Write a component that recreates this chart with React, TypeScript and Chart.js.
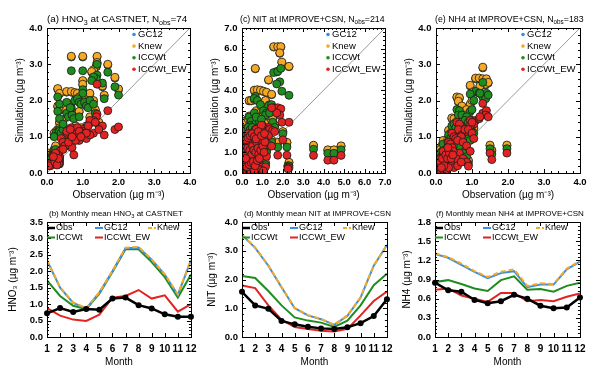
import React, { useEffect, useRef } from 'react';
import { Chart, registerables } from 'chart.js';

Chart.register(...registerables);

const FONT = "'Liberation Sans', Arial, Helvetica, sans-serif";
const COL_GC12 = '#3b8fdc';
const COL_KNEW = '#f6a924';
const COL_ICC = '#1f8c1f';
const COL_EW = '#e32222';
const COL_OBS = '#000000';

const seriesNames = ['GC12', 'Knew', 'ICCWt', 'ICCWt_EW'];

// ---------- (a) HNO3 at CASTNET scatter ----------
const hno3Obs = [
  0.68, 1.0, 1.4, 1.4, 1.38, 1.7, 1.3, 1.25, 1.0, 1.0,
  1.9, 2.0, 1.55, 0.3, 0.35, 0.55, 0.68, 0.78, 0.85, 0.9,
  0.95, 1.05, 1.1, 1.2, 1.15, 1.6, 0.3, 0.35, 0.35, 0.55,
  0.6, 0.7, 0.75, 0.9, 0.65, 1.3, 1.2, 0.25, 0.3, 0.2,
  0.35, 0.4, 0.45, 0.15, 0.2, 0.1, 0.05, 0.25, 0.3, 0.35,
  0.2, 0.28, 0.05, 1.1, 1.45, 0.5, 0.6, 0.8, 0.95, 1.35,
  0.7, 0.45, 0.22, 0.26, 0.3, 0.33, 0.24, 0.28, 0.32, 0.18,
];
const hno3Gc12 = [
  3.2, 3.2, 3.2, 3.03, 2.93, 2.98, 2.83, 2.78, 2.53, 2.43,
  2.62, 2.3, 2.38, 2.31, 2.18, 2.23, 2.23, 2.2, 2.18, 2.08,
  2.03, 2.13, 2.03, 2.18, 1.98, 2.13, 1.83, 1.73, 1.38, 1.73,
  1.63, 1.68, 1.58, 1.68, 1.88, 1.98, 1.53, 1.13, 1.18, 1.08,
  1.23, 1.13, 1.28, 0.53, 0.48, 0.43, 0.53, 0.58, 0.48, 0.43,
  0.63, 0.68, 0.24, 1.28, 1.38, 0.98, 1.03, 1.28, 1.23, 1.73,
  1.18, 1.43, 0.39, 0.53, 0.63, 0.34, 0.73, 0.29, 0.48, 0.58,
];
const hno3Knew = [
  3.22, 3.22, 3.22, 3.05, 2.95, 3.0, 2.85, 2.8, 2.55, 2.45,
  2.64, 2.32, 2.4, 2.33, 2.2, 2.25, 2.25, 2.22, 2.2, 2.1,
  2.05, 2.15, 2.05, 2.2, 2.0, 2.15, 1.85, 1.75, 1.4, 1.75,
  1.65, 1.7, 1.6, 1.7, 1.9, 2.0, 1.55, 1.15, 1.2, 1.1,
  1.25, 1.15, 1.3, 0.55, 0.5, 0.45, 0.55, 0.6, 0.5, 0.45,
  0.65, 0.7, 0.25, 1.3, 1.4, 1.0, 1.05, 1.3, 1.25, 1.75,
  1.2, 1.45, 0.4, 0.55, 0.65, 0.35, 0.75, 0.3, 0.5, 0.6,
];
const hno3Icc = [
  2.82, 2.82, 3.0, 2.7, 2.6, 2.78, 2.65, 2.55, 2.3, 2.2,
  2.38, 2.15, 2.48, 2.1, 1.9, 1.95, 1.8, 2.0, 2.05, 1.95,
  1.9, 1.95, 1.85, 2.0, 1.8, 2.05, 1.7, 1.5, 1.2, 1.65,
  1.55, 1.6, 1.5, 1.55, 1.8, 1.9, 1.4, 1.1, 1.05, 1.0,
  1.15, 1.1, 1.2, 0.5, 0.4, 0.3, 0.35, 0.55, 0.45, 0.4,
  0.6, 0.6, 0.22, 1.25, 1.3, 0.95, 1.0, 1.2, 1.15, 1.65,
  1.1, 1.35, 0.35, 0.5, 0.55, 0.3, 0.65, 0.28, 0.45, 0.5,
];
const hno3Ew = [
  1.25, 1.2, 2.45, 1.62, 1.55, 1.72, 1.45, 1.4, 1.15, 1.1,
  1.2, 1.27, 1.3, 0.55, 0.45, 1.1, 0.95, 1.1, 1.25, 1.15,
  1.0, 1.05, 0.95, 1.45, 1.3, 1.05, 0.4, 0.35, 0.3, 1.15,
  0.75, 0.7, 0.5, 0.9, 1.2, 1.1, 1.05, 0.45, 0.35, 0.4,
  0.6, 0.95, 0.85, 0.3, 0.25, 0.2, 0.25, 0.4, 0.3, 0.25,
  0.5, 0.35, 0.2, 1.1, 1.2, 0.75, 0.85, 0.9, 1.0, 1.4,
  1.0, 0.65, 0.3, 0.45, 0.5, 0.25, 0.55, 0.22, 0.4, 0.45,
];

// ---------- (c) NIT at IMPROVE+CSN scatter ----------
const nitObs = [
  3.5, 4.2, 4.5, 4.85, 1.75, 2.2, 2.3, 2.25, 1.55, 1.75,
  1.9, 1.85, 1.95, 2.3, 0.65, 1.3, 1.7, 0.6, 0.75, 0.9,
  1.05, 1.2, 1.45, 0.35, 0.45, 0.6, 1.15, 1.35, 0.35, 0.45,
  0.55, 0.7, 0.85, 1.0, 1.5, 1.3, 1.6, 2.0, 0.25, 0.2,
  0.15, 0.1, 0.3, 0.5, 0.8, 1.1, 0.9, 0.65, 0.4, 0.55,
  0.75, 1.0, 1.2, 0.3, 0.2, 0.1, 0.05, 0.15, 0.25, 0.35,
  0.45, 0.6, 0.7, 0.85, 1.0, 1.15, 0.05, 0.1, 0.15, 0.2,
  0.3, 0.4, 0.5, 0.55, 0.65, 0.8, 0.9, 0.05, 0.1, 0.25,
  0.35, 0.45, 0.6, 1.05, 0.02, 0.08, 0.12, 0.3, 0.7, 0.95,
  1.25, 1.45, 0.08, 0.12, 0.18, 0.22, 0.28, 0.32, 0.38, 0.42,
  0.48, 0.52, 0.58, 0.62, 0.68, 0.72, 0.78, 0.82, 0.88, 0.92,
  0.98, 1.02, 1.08, 1.12, 0.15, 0.25, 0.35, 0.45, 0.55, 0.65,
  0.75, 0.85, 0.2, 0.3, 0.4, 0.5, 0.6, 0.7, 0.8, 0.95,
  1.1, 0.18,
];
const nitGc12 = [
  1.32, 1.1, 1.1, 1.29, 1.46, 1.46, 0.5, 0.34, 6.08, 6.08,
  6.08, 5.78, 5.33, 5.13, 5.03, 4.48, 4.88, 3.98, 4.0, 3.98,
  3.93, 3.88, 3.78, 3.48, 3.48, 3.53, 3.48, 3.28, 2.73, 2.68,
  2.68, 2.63, 2.68, 2.58, 2.58, 2.38, 2.28, 1.98, 2.28, 1.98,
  1.78, 1.48, 1.88, 2.08, 2.18, 1.98, 1.78, 1.68, 1.58, 1.28,
  1.38, 1.28, 1.08, 1.18, 0.98, 0.88, 0.68, 0.58, 0.78, 0.88,
  0.98, 0.88, 0.78, 0.68, 0.58, 0.48, 0.28, 0.19, 0.34, 0.38,
  0.48, 0.43, 0.53, 0.28, 0.38, 0.33, 0.24, 0.05, 0.1, 0.14,
  0.19, 0.1, 0.14, 0.19, 1.18, 1.58, 2.48, 2.58, 2.98, 3.18,
  1.78, 1.58, 1.38, 1.08, 0.78, 1.28, 1.58, 0.98, 1.48, 1.88,
  1.18, 1.68, 1.48, 1.98, 1.28, 1.88, 1.58, 1.18, 2.28, 1.48,
  1.88, 1.68, 1.38, 1.88, 0.48, 0.43, 0.58, 0.68, 0.78, 0.53,
  0.88, 0.98, 2.08, 2.18, 2.38, 2.48, 2.28, 2.08, 2.48, 2.18,
  2.38, 1.08,
];
const nitKnew = [
  1.34, 1.12, 1.12, 1.31, 1.48, 1.48, 0.52, 0.35, 6.1, 6.1,
  6.1, 5.8, 5.35, 5.15, 5.05, 4.5, 4.9, 4.0, 4.02, 4.0,
  3.95, 3.9, 3.8, 3.5, 3.5, 3.55, 3.5, 3.3, 2.75, 2.7,
  2.7, 2.65, 2.7, 2.6, 2.6, 2.4, 2.3, 2.0, 2.3, 2.0,
  1.8, 1.5, 1.9, 2.1, 2.2, 2.0, 1.8, 1.7, 1.6, 1.3,
  1.4, 1.3, 1.1, 1.2, 1.0, 0.9, 0.7, 0.6, 0.8, 0.9,
  1.0, 0.9, 0.8, 0.7, 0.6, 0.5, 0.3, 0.2, 0.35, 0.4,
  0.5, 0.45, 0.55, 0.3, 0.4, 0.35, 0.25, 0.05, 0.1, 0.15,
  0.2, 0.1, 0.15, 0.2, 1.2, 1.6, 2.5, 2.6, 3.0, 3.2,
  1.8, 1.6, 1.4, 1.1, 0.8, 1.3, 1.6, 1.0, 1.5, 1.9,
  1.2, 1.7, 1.5, 2.0, 1.3, 1.9, 1.6, 1.2, 2.3, 1.5,
  1.9, 1.7, 1.4, 1.9, 0.5, 0.45, 0.6, 0.7, 0.8, 0.55,
  0.9, 1.0, 2.1, 2.2, 2.4, 2.5, 2.3, 2.1, 2.5, 2.2,
  2.4, 1.1,
];
const nitIcc = [
  1.15, 0.95, 0.95, 1.12, 1.25, 1.25, 0.35, 0.28, 4.85, 4.9,
  5.05, 4.4, 3.95, 3.75, 3.7, 3.25, 4.3, 3.6, 3.5, 3.3,
  3.0, 2.9, 3.3, 2.7, 2.5, 2.9, 2.8, 2.9, 2.2, 2.3,
  2.25, 2.4, 2.5, 2.3, 2.45, 2.1, 2.2, 1.9, 2.0, 1.7,
  1.6, 1.3, 1.5, 1.8, 1.9, 1.8, 1.6, 1.5, 1.4, 1.2,
  1.2, 1.1, 1.0, 1.0, 0.9, 0.8, 0.6, 0.5, 0.7, 0.8,
  0.9, 0.8, 0.6, 0.6, 0.5, 0.4, 0.2, 0.15, 0.3, 0.3,
  0.4, 0.35, 0.45, 0.2, 0.3, 0.3, 0.2, 0.05, 0.1, 0.1,
  0.15, 0.1, 0.1, 0.15, 1.0, 1.4, 2.1, 2.2, 2.7, 2.6,
  1.6, 1.5, 1.2, 1.0, 0.7, 1.1, 1.4, 0.9, 1.3, 1.7,
  1.1, 1.5, 1.3, 1.8, 1.2, 1.7, 1.4, 1.1, 2.0, 1.3,
  1.7, 1.5, 1.2, 1.7, 0.4, 0.4, 0.5, 0.6, 0.7, 0.45,
  0.8, 0.9, 1.8, 1.9, 2.1, 2.2, 2.0, 1.9, 2.2, 2.0,
  2.1, 0.9,
];
const nitEw = [
  0.85, 0.62, 0.62, 0.85, 0.86, 0.86, 0.25, 0.2, 3.15, 3.15,
  3.1, 2.8, 2.45, 2.45, 2.1, 2.2, 2.9, 1.8, 1.9, 2.0,
  1.7, 2.1, 3.15, 1.5, 1.4, 1.6, 2.0, 2.1, 1.2, 1.3,
  1.5, 1.7, 1.9, 2.0, 2.05, 1.8, 2.0, 1.6, 1.3, 1.1,
  1.5, 1.0, 1.2, 1.4, 1.2, 1.6, 1.3, 1.1, 1.0, 0.9,
  1.0, 0.9, 0.8, 0.7, 0.6, 0.5, 0.4, 0.3, 0.5, 0.6,
  0.7, 0.6, 0.5, 0.4, 0.3, 0.3, 0.1, 0.1, 0.2, 0.2,
  0.3, 0.25, 0.3, 0.15, 0.2, 0.2, 0.15, 0.05, 0.05, 0.1,
  0.1, 0.05, 0.1, 0.1, 0.8, 1.2, 1.6, 1.9, 2.1, 2.3,
  1.4, 1.3, 1.0, 0.8, 0.5, 0.9, 1.2, 0.7, 1.1, 1.5,
  0.9, 1.3, 1.1, 1.6, 1.0, 1.5, 1.2, 0.9, 1.8, 1.1,
  1.5, 1.3, 1.0, 1.5, 0.3, 0.3, 0.4, 0.5, 0.55, 0.35,
  0.6, 0.7, 1.6, 1.7, 1.8, 1.9, 1.75, 1.65, 2.0, 1.8,
  1.9, 0.7,
];

// ---------- (e) NH4 at IMPROVE+CSN scatter ----------
const nh4Obs = [
  1.3, 1.1, 1.2, 1.3, 1.4, 1.38, 1.45, 1.22, 0.95, 1.05,
  0.58, 0.65, 0.62, 0.72, 0.95, 1.0, 0.85, 0.8, 0.44, 0.5,
  0.55, 0.7, 0.9, 1.0, 1.05, 0.35, 0.4, 0.6, 0.75, 0.85,
  0.95, 0.45, 0.3, 0.25, 0.17, 0.4, 0.5, 0.65, 0.75, 0.85,
  0.9, 1.5, 1.55, 1.97, 0.05, 0.1, 0.15, 0.2, 0.25, 0.3,
  0.35, 0.4, 0.45, 0.5, 0.55, 0.05, 0.1, 0.15, 0.2, 0.25,
  0.3, 0.35, 0.6, 0.7, 0.08, 0.12, 0.28, 0.38, 0.48, 0.2,
  0.12, 0.18, 0.22, 0.27, 0.32, 0.37, 0.42, 0.47, 0.15, 0.33,
];
const nh4Gc12 = [
  2.9, 2.6, 2.6, 2.58, 2.58, 2.43, 2.48, 2.38, 2.4, 2.23,
  2.08, 2.06, 1.96, 1.83, 1.88, 1.98, 1.73, 1.58, 1.5, 1.48,
  1.38, 1.43, 1.53, 1.43, 1.23, 1.16, 1.08, 1.18, 1.18, 1.08,
  1.03, 0.93, 0.88, 0.78, 0.75, 0.78, 0.68, 0.83, 0.68, 0.53,
  0.33, 0.75, 0.61, 0.75, 0.53, 0.43, 0.33, 0.48, 0.58, 0.38,
  0.53, 0.28, 0.43, 0.23, 0.58, 0.18, 0.13, 0.09, 0.18, 0.28,
  0.13, 0.23, 0.33, 0.48, 0.33, 0.63, 0.7, 0.63, 0.83, 0.88,
  0.43, 0.58, 0.28, 0.73, 0.53, 0.78, 0.58, 0.68, 0.23, 0.93,
];
const nh4Knew = [
  2.92, 2.62, 2.62, 2.6, 2.6, 2.45, 2.5, 2.4, 2.42, 2.25,
  2.1, 2.08, 1.98, 1.85, 1.9, 2.0, 1.75, 1.6, 1.52, 1.5,
  1.4, 1.45, 1.55, 1.45, 1.25, 1.18, 1.1, 1.2, 1.2, 1.1,
  1.05, 0.95, 0.9, 0.8, 0.77, 0.8, 0.7, 0.85, 0.7, 0.55,
  0.35, 0.77, 0.63, 0.77, 0.55, 0.45, 0.35, 0.5, 0.6, 0.4,
  0.55, 0.3, 0.45, 0.25, 0.6, 0.2, 0.15, 0.1, 0.2, 0.3,
  0.15, 0.25, 0.35, 0.5, 0.35, 0.65, 0.72, 0.65, 0.85, 0.9,
  0.45, 0.6, 0.3, 0.75, 0.55, 0.8, 0.6, 0.7, 0.25, 0.95,
];
const nh4Icc = [
  2.5, 2.25, 2.2, 2.1, 2.2, 2.05, 2.15, 2.2, 2.18, 2.0,
  1.75, 1.72, 1.6, 1.6, 1.7, 1.75, 1.55, 1.45, 1.3, 1.35,
  1.25, 1.3, 1.4, 1.3, 1.1, 1.05, 0.95, 1.1, 1.05, 0.95,
  0.9, 0.85, 0.8, 0.7, 0.6, 0.7, 0.6, 0.75, 0.55, 0.45,
  0.25, 0.67, 0.52, 0.67, 0.45, 0.35, 0.3, 0.4, 0.5, 0.35,
  0.45, 0.25, 0.4, 0.2, 0.5, 0.15, 0.1, 0.08, 0.15, 0.25,
  0.12, 0.2, 0.3, 0.4, 0.3, 0.55, 0.6, 0.55, 0.75, 0.8,
  0.4, 0.5, 0.25, 0.65, 0.5, 0.7, 0.5, 0.6, 0.2, 0.85,
];
const nh4Ew = [
  1.92, 1.45, 1.5, 1.65, 1.72, 1.6, 1.55, 1.55, 1.45, 1.35,
  1.4, 1.35, 1.2, 1.05, 1.3, 1.4, 1.15, 1.2, 1.1, 1.0,
  0.95, 1.0, 1.2, 1.1, 0.95, 0.85, 0.8, 0.9, 0.85, 0.75,
  0.6, 0.7, 0.65, 0.55, 0.45, 0.5, 0.45, 0.55, 0.4, 0.3,
  0.19, 0.55, 0.37, 0.55, 0.35, 0.25, 0.2, 0.3, 0.4, 0.25,
  0.35, 0.2, 0.3, 0.15, 0.4, 0.08, 0.05, 0.05, 0.1, 0.15,
  0.1, 0.15, 0.2, 0.3, 0.2, 0.4, 0.45, 0.4, 0.6, 0.6,
  0.3, 0.4, 0.2, 0.5, 0.4, 0.55, 0.4, 0.5, 0.15, 0.7,
];

// ---------- monthly means ----------
const months = [1, 2, 3, 4, 5, 6, 7, 8, 9, 10, 11, 12];

const hno3MonObs = [0.72, 0.88, 0.76, 0.85, 0.83, 1.17, 1.2, 0.97, 0.87, 0.69, 0.62, 0.62];
const hno3MonGc12 = [2.33, 1.5, 1.04, 0.87, 1.35, 2.0, 2.7, 2.72, 2.35, 1.9, 1.28, 2.33];
const hno3MonKnew = [2.35, 1.51, 1.05, 0.88, 1.36, 2.01, 2.72, 2.74, 2.36, 1.91, 1.3, 2.35];
const hno3MonIcc = [1.72, 1.25, 0.95, 0.85, 1.32, 1.98, 2.67, 2.67, 2.28, 1.82, 1.2, 1.9];
const hno3MonEw = [0.88, 0.65, 0.53, 0.49, 0.68, 1.2, 1.25, 1.43, 1.17, 1.27, 0.77, 1.0];

const nitMonObs = [1.57, 1.1, 0.98, 0.56, 0.44, 0.36, 0.3, 0.28, 0.34, 0.48, 0.73, 1.31];
const nitMonGc12 = [3.55, 3.1, 2.48, 1.73, 1.0, 0.75, 0.62, 0.42, 0.74, 1.37, 2.48, 3.2];
const nitMonKnew = [3.56, 3.11, 2.49, 1.74, 1.01, 0.76, 0.63, 0.43, 0.75, 1.38, 2.49, 3.2];
const nitMonIcc = [2.12, 2.05, 1.6, 1.1, 0.68, 0.57, 0.5, 0.35, 0.57, 1.1, 1.8, 2.2];
const nitMonEw = [1.79, 1.7, 1.1, 0.6, 0.35, 0.28, 0.22, 0.19, 0.28, 0.75, 1.25, 1.58];

const nh4MonObs = [0.85, 0.73, 0.71, 0.58, 0.53, 0.56, 0.66, 0.6, 0.49, 0.45, 0.46, 0.62];
const nh4MonGc12 = [1.3, 1.24, 1.13, 1.02, 0.92, 1.0, 1.03, 0.78, 0.82, 0.82, 1.06, 1.18];
const nh4MonKnew = [1.31, 1.25, 1.15, 1.03, 0.94, 1.02, 1.06, 0.8, 0.84, 0.83, 1.07, 1.19];
const nh4MonIcc = [0.86, 0.89, 0.83, 0.76, 0.72, 0.89, 0.95, 0.74, 0.75, 0.71, 0.8, 0.85];
const nh4MonEw = [0.74, 0.76, 0.65, 0.6, 0.55, 0.69, 0.69, 0.56, 0.58, 0.56, 0.63, 0.68];

// ---------- helpers ----------
const UNIT = '(\u00b5g m\u207b\u00b3)';
const fmt1 = (v: any) => Number(v).toFixed(1);
const TICK_FONT = { family: FONT, size: 9.5, weight: 'bold' as const };
const TITLE_FONT = { family: FONT, size: 10 };

const decorPlugin = {
  id: 'decor',
  afterDatasetsDraw(chart: any, _args: any, opts: any) {
    const { ctx, chartArea: a } = chart;
    ctx.save();
    ctx.strokeStyle = '#000';
    ctx.lineWidth = 1;
    const drawTicks = (scale: any, horizontal: boolean, minorN: number) => {
      const vals: number[] = scale.ticks.map((t: any) => t.value);
      const marks: [number, number][] = [];
      vals.forEach((v, i) => {
        marks.push([v, 4]);
        if (i < vals.length - 1 && minorN > 1) {
          for (let k = 1; k < minorN; k++) marks.push([v + ((vals[i + 1] - v) * k) / minorN, 2]);
        }
      });
      marks.forEach(([v, len]) => {
        const p = Math.round(scale.getPixelForValue(v)) + 0.5;
        ctx.beginPath();
        if (horizontal) {
          ctx.moveTo(p, a.bottom); ctx.lineTo(p, a.bottom - len);
          ctx.moveTo(p, a.top); ctx.lineTo(p, a.top + len);
        } else {
          ctx.moveTo(a.left, p); ctx.lineTo(a.left + len, p);
          ctx.moveTo(a.right, p); ctx.lineTo(a.right - len, p);
        }
        ctx.stroke();
      });
    };
    drawTicks(chart.scales.x, true, opts.xMinor || 1);
    drawTicks(chart.scales.y, false, opts.yMinor || 1);
    ctx.strokeRect(Math.round(a.left) + 0.5, Math.round(a.top) + 0.5, Math.round(a.width), Math.round(a.height));
    ctx.restore();
  },
  afterDraw(chart: any, _args: any, opts: any) {
    const { ctx, chartArea: a } = chart;
    ctx.save();
    ctx.fillStyle = '#000';
    if (opts.title) {
      const t = opts.title;
      let x = a.left + t.dx;
      const y = a.top + t.dy;
      ctx.textBaseline = 'alphabetic';
      ctx.textAlign = 'left';
      for (const seg of t.segments) {
        const size = seg.sub ? t.size * 0.72 : t.size;
        ctx.font = `${size}px ${FONT}`;
        ctx.fillText(seg.text, x, seg.sub ? y + t.size * 0.28 : y);
        x += ctx.measureText(seg.text).width;
      }
    }
    if (opts.legend) {
      const L = opts.legend;
      ctx.font = `${L.size}px ${FONT}`;
      ctx.textBaseline = 'middle';
      ctx.textAlign = 'left';
      for (const it of L.items) {
        const x = a.left + it.x;
        const y = a.top + it.y;
        if (it.kind === 'dot') {
          ctx.fillStyle = it.color;
          ctx.beginPath();
          ctx.arc(x, y, L.dotR, 0, Math.PI * 2);
          ctx.fill();
          ctx.fillStyle = '#000';
          ctx.fillText(it.label, x + L.textGap, y);
        } else {
          ctx.strokeStyle = it.color;
          ctx.lineWidth = it.width || 2;
          ctx.setLineDash(it.dash || []);
          ctx.beginPath();
          ctx.moveTo(x, y);
          ctx.lineTo(x + L.lineLen, y);
          ctx.stroke();
          ctx.setLineDash([]);
          ctx.fillStyle = '#000';
          ctx.fillText(it.label, x + L.lineLen + L.textGap, y);
        }
      }
    }
    ctx.restore();
  },
};

const pts = (xs: number[], ys: number[]) => xs.map((x, i) => ({ x, y: ys[i] }));

type Spec = { x: number; y: number; w: number; h: number; config: any };

function scatterSpec(p: any): Spec {
  const yAxisW = 47, xAxisH = 28, padR = 14;
  const w = yAxisW + p.w + padR;
  const h = p.t + p.h + xAxisH;
  const colors = [COL_GC12, COL_KNEW, COL_ICC, COL_EW];
  const series = [p.gc12, p.knew, p.icc, p.ew];
  const datasets: any[] = [
    {
      label: '1:1',
      data: [{ x: 0, y: 0 }, { x: p.max, y: p.max }],
      showLine: true,
      borderColor: '#9a9a9a',
      borderWidth: 1,
      pointRadius: 0,
      order: 10,
    },
  ];
  series.forEach((s: number[], i: number) => {
    datasets.push({
      label: seriesNames[i],
      data: pts(p.obs, s),
      backgroundColor: colors[i],
      borderColor: '#1a1a1a',
      borderWidth: 0.8,
      pointRadius: 4,
      order: 4 - i,
    });
  });
  return {
    x: p.l - yAxisW,
    y: 0,
    w,
    h,
    config: {
      type: 'scatter',
      data: { datasets },
      plugins: [decorPlugin],
      options: {
        animation: false,
        responsive: false,
        devicePixelRatio: 1,
        layout: { padding: { top: p.t, right: padR, left: 0, bottom: 0 } },
        plugins: {
          legend: { display: false },
          tooltip: { enabled: false },
          decor: {
            xMinor: 5,
            yMinor: 5,
            title: { dx: p.titleDx, dy: -6, size: p.titleSize, segments: p.title },
            legend: {
              size: 9.5,
              dotR: 1.8,
              textGap: 4,
              items: seriesNames.map((n, i) => ({ kind: 'dot', label: n, color: colors[i], x: p.legX, y: 6.5 + i * 11.6 })),
            },
          },
        },
        scales: {
          x: {
            type: 'linear',
            min: 0,
            max: p.max,
            grid: { display: false, drawTicks: false },
            border: { display: false },
            ticks: { stepSize: 1, autoSkip: false, maxRotation: 0, callback: fmt1, font: TICK_FONT, color: '#000', padding: 4 },
            title: { display: true, text: 'Observation ' + UNIT, font: TITLE_FONT, color: '#000', padding: { top: 0, bottom: 0 } },
            afterFit: (s: any) => { s.height = xAxisH; },
          },
          y: {
            type: 'linear',
            min: 0,
            max: p.max,
            grid: { display: false, drawTicks: false },
            border: { display: false },
            ticks: { stepSize: 1, autoSkip: false, callback: fmt1, font: TICK_FONT, color: '#000', padding: 4.5 },
            title: { display: true, text: 'Simulation ' + UNIT, font: TITLE_FONT, color: '#000', padding: { top: 14, bottom: 0 } },
            afterFit: (s: any) => { s.width = yAxisW; },
          },
        },
      },
    },
  };
}

function monthlySpec(p: any): Spec {
  const yAxisW = 47, xAxisH = 31, padR = 10, padT = 22;
  const w = yAxisW + p.w + padR;
  const h = padT + p.h + xAxisH;
  const datasets = [
    { label: 'Obs', data: pts(months, p.obs), borderColor: COL_OBS, backgroundColor: COL_OBS, borderWidth: 2.5, pointRadius: 3, pointBorderWidth: 0, order: 0, clip: 6 },
    { label: 'GC12', data: pts(months, p.gc12), borderColor: COL_GC12, borderWidth: 2, pointRadius: 0, order: 2 },
    { label: 'Knew', data: pts(months, p.knew), borderColor: COL_KNEW, borderWidth: 2, borderDash: [5, 3], pointRadius: 0, order: 1 },
    { label: 'ICCWt', data: pts(months, p.icc), borderColor: COL_ICC, borderWidth: 2, pointRadius: 0, order: 3 },
    { label: 'ICCWt_EW', data: pts(months, p.ew), borderColor: COL_EW, borderWidth: 2, pointRadius: 0, order: 4 },
  ];
  const legItems = [
    { kind: 'line', label: 'Obs', color: COL_OBS, width: 2.5, x: 0, y: 6 },
    { kind: 'line', label: 'GC12', color: COL_GC12, width: 2, x: 48, y: 6 },
    { kind: 'line', label: 'Knew', color: COL_KNEW, width: 2, dash: [4, 2], x: 101, y: 6 },
    { kind: 'line', label: 'ICCWt', color: COL_ICC, width: 2, x: 0, y: 15.5 },
    { kind: 'line', label: 'ICCWt_EW', color: COL_EW, width: 2, x: 48, y: 15.5 },
  ];
  return {
    x: p.l - yAxisW,
    y: p.t - padT,
    w,
    h,
    config: {
      type: 'line',
      data: { datasets },
      plugins: [decorPlugin],
      options: {
        animation: false,
        responsive: false,
        devicePixelRatio: 1,
        layout: { padding: { top: padT, right: padR, left: 0, bottom: 0 } },
        plugins: {
          legend: { display: false },
          tooltip: { enabled: false },
          decor: {
            xMinor: 1,
            yMinor: 5,
            title: { dx: p.titleDx, dy: -6.5, size: 8, segments: p.title },
            legend: { size: 9, lineLen: 8, textGap: 1, items: legItems },
          },
        },
        scales: {
          x: {
            type: 'linear',
            min: 1,
            max: 12,
            grid: { display: false, drawTicks: false },
            border: { display: false },
            ticks: { stepSize: 1, autoSkip: false, maxRotation: 0, font: { family: FONT, size: 10, weight: 'bold' as const }, color: '#000', padding: 6.5 },
            title: { display: true, text: 'Month', font: TITLE_FONT, color: '#000', padding: { top: 0, bottom: 0 } },
            afterFit: (s: any) => { s.height = xAxisH; },
          },
          y: {
            type: 'linear',
            min: 0,
            max: p.max,
            grid: { display: false, drawTicks: false },
            border: { display: false },
            ticks: { stepSize: p.step, autoSkip: false, callback: fmt1, font: TICK_FONT, color: '#000', padding: 4 },
            title: { display: true, text: p.yTitle, font: TITLE_FONT, color: '#000', padding: { top: p.yTitlePad, bottom: 0 } },
            afterFit: (s: any) => { s.width = yAxisW; },
          },
        },
      },
    },
  };
}

const specs: Spec[] = [
  scatterSpec({
    l: 47, t: 28, w: 143, h: 145, max: 4, legX: 87, titleDx: 0, titleSize: 9.9,
    obs: hno3Obs, gc12: hno3Gc12, knew: hno3Knew, icc: hno3Icc, ew: hno3Ew,
    title: [{ text: '(a) HNO' }, { text: '3', sub: true }, { text: ' at CASTNET, N' }, { text: 'obs', sub: true }, { text: '=74' }],
  }),
  scatterSpec({
    l: 242, t: 28, w: 143, h: 145, max: 7, legX: 86, titleDx: -2, titleSize: 8.8,
    obs: nitObs, gc12: nitGc12, knew: nitKnew, icc: nitIcc, ew: nitEw,
    title: [{ text: '(c) NIT at IMPROVE+CSN, N' }, { text: 'obs', sub: true }, { text: '=214' }],
  }),
  scatterSpec({
    l: 436, t: 28, w: 144, h: 145, max: 4, legX: 87, titleDx: -1, titleSize: 8.8,
    obs: nh4Obs, gc12: nh4Gc12, knew: nh4Knew, icc: nh4Icc, ew: nh4Ew,
    title: [{ text: '(e) NH4 at IMPROVE+CSN, N' }, { text: 'obs', sub: true }, { text: '=183' }],
  }),
  monthlySpec({
    l: 47, t: 222, w: 146, h: 115, max: 3.5, step: 0.5, titleDx: 2, yTitlePad: 7,
    yTitle: 'HNO\u2083 ' + UNIT,
    obs: hno3MonObs, gc12: hno3MonGc12, knew: hno3MonKnew, icc: hno3MonIcc, ew: hno3MonEw,
    title: [{ text: '(b) Monthly mean HNO' }, { text: '3', sub: true }, { text: ' at CASTNET' }],
  }),
  monthlySpec({
    l: 242, t: 222, w: 147, h: 115, max: 4, step: 1, titleDx: 2, yTitlePad: 11,
    yTitle: 'NIT ' + UNIT,
    obs: nitMonObs, gc12: nitMonGc12, knew: nitMonKnew, icc: nitMonIcc, ew: nitMonEw,
    title: [{ text: '(d) Monthly mean NIT at IMPROVE+CSN' }],
  }),
  monthlySpec({
    l: 435, t: 222, w: 147, h: 115, max: 1.8, step: 0.3, titleDx: 1, yTitlePad: 13,
    yTitle: 'NH4 ' + UNIT,
    obs: nh4MonObs, gc12: nh4MonGc12, knew: nh4MonKnew, icc: nh4MonIcc, ew: nh4MonEw,
    title: [{ text: '(f) Monthly mean NH4 at IMPROVE+CSN' }],
  }),
];

function ChartCanvas({ spec }: { spec: Spec }) {
  const ref = useRef<HTMLCanvasElement>(null);
  useEffect(() => {
    const chart = new Chart(ref.current as HTMLCanvasElement, spec.config);
    return () => chart.destroy();
  }, [spec]);
  return (
    <canvas
      ref={ref}
      width={spec.w}
      height={spec.h}
      style={{ position: 'absolute', left: spec.x, top: spec.y, width: spec.w, height: spec.h }}
    />
  );
}

export default function App() {
  return (
    <div style={{ position: 'fixed', left: 0, top: 0, width: 600, height: 377, background: '#fff', overflow: 'hidden' }}>
      {specs.map((s, i) => (
        <ChartCanvas key={i} spec={s} />
      ))}
    </div>
  );
}
